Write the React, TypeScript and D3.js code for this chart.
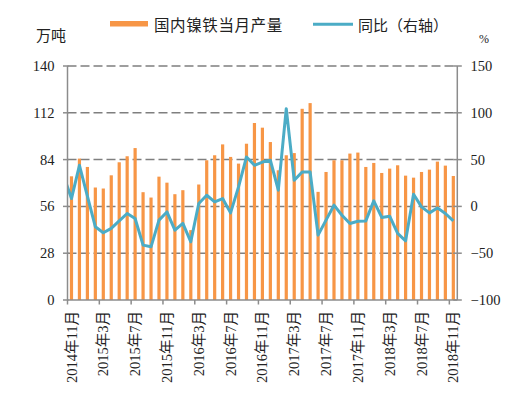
import React from "react";
import * as d3 from "d3";

const months: string[] = [
  "2014年11月","2014年12月","2015年1月","2015年2月","2015年3月","2015年4月","2015年5月","2015年6月","2015年7月","2015年8月","2015年9月","2015年10月",
  "2015年11月","2015年12月","2016年1月","2016年2月","2016年3月","2016年4月","2016年5月","2016年6月","2016年7月","2016年8月","2016年9月","2016年10月",
  "2016年11月","2016年12月","2017年1月","2017年2月","2017年3月","2017年4月","2017年5月","2017年6月","2017年7月","2017年8月","2017年9月","2017年10月",
  "2017年11月","2017年12月","2018年1月","2018年2月","2018年3月","2018年4月","2018年5月","2018年6月","2018年7月","2018年8月","2018年9月","2018年10月",
  "2018年11月",
];

// 国内镍铁当月产量 (万吨)
const production: number[] = [
  74.0, 84.6, 79.6, 67.3, 66.7, 74.6, 82.4, 86.0, 90.9, 64.5, 61.3, 73.8,
  70.2, 63.3, 65.7, 41.8, 69.1, 83.6, 86.6, 93.1, 85.6, 81.6, 93.5, 105.9,
  103.1, 94.5, 77.6, 86.6, 87.9, 114.4, 117.8, 64.7, 76.6, 83.6, 83.6, 87.6,
  88.2, 79.6, 82.0, 76.0, 78.6, 80.6, 74.4, 73.2, 76.6, 78.0, 82.8, 80.4,
  74.2,
];

// 同比 (%) — preceding month (2014年10月) first, clipped by the plot area
const yoyPrev = 33;
const yoy: number[] = [
  8.4, 43.9, 11, -21.8, -28.2, -23.5, -15.5, -7.6, -12.9, -41.4, -43.2, -14.7,
  -5.9, -25.4, -18.2, -37.8, 3.1, 11.9, 4.8, 8.4, -6.9, 20.8, 52.8, 43.9,
  47.4, 49.3, 17.3, 104.4, 27.9, 36.8, 36.8, -30.7, -14.7, 1.3, -9.4, -18.2,
  -15.8, -15.5, 5.9, -11.8, -10.5, -28.9, -36.8, 13.0, -0.5, -6.9, -1.6, -7.6,
  -15.5,
];

const leftTicks: number[] = [0, 28, 56, 84, 112, 140];
const rightTicks: number[] = [-100, -50, 0, 50, 100, 150];
const labelEvery = 4;

const W = 508, H = 396;
const L = 67.5, R = 457.3, T = 66, B = 300;

const BAR = "#F79646";
const LINE = "#4BACC6";
const AXIS = "#8c8c8c";
const GRID = "#7f7f7f";
const SERIF = "'Liberation Serif', 'Noto Sans CJK SC', serif";
const CJK = "'Noto Sans CJK SC', sans-serif";

export default function App() {
  const x = d3.scaleBand<string>().domain(months).range([L, R]).padding(0);
  const bw = x.bandwidth();
  const barW = 3.2;
  const yL = d3.scaleLinear().domain([0, 140]).range([B, T]);
  const yR = d3.scaleLinear().domain([-100, 150]).range([B, T]);
  const xi = d3.scaleLinear().domain([0, 1]).range([L + bw / 2, L + bw * 1.5]);

  const linePts: [number, number][] = [
    [xi(-1), yR(yoyPrev)],
    ...yoy.map((v, i) => [xi(i), yR(v)] as [number, number]),
  ];
  const lineGen = d3.line<[number, number]>().x((d) => d[0]).y((d) => d[1]);

  return (
    <svg width={W} height={H} style={{ position: "absolute", left: 0, top: 0, background: "#fff" }}>
      <defs>
        <clipPath id="plot">
          <rect x={L} y={T - 10} width={R - L} height={B - T + 10} />
        </clipPath>
      </defs>

      {/* gridlines */}
      {leftTicks.filter((t) => t > 0).map((t) => (
        <line key={"g" + t} x1={L} x2={R} y1={yL(t)} y2={yL(t)} stroke={GRID} strokeWidth={1.5} strokeDasharray="9,4" />
      ))}

      {/* bars */}
      {production.map((v, i) => (
        <rect key={"b" + i} x={(x(months[i]) as number) + bw / 2 - barW / 2} y={yL(v)} width={barW} height={yL(0) - yL(v)} fill={BAR} />
      ))}

      {/* line */}
      <path d={lineGen(linePts) || ""} fill="none" stroke={LINE} strokeWidth={3} strokeLinejoin="round" clipPath="url(#plot)" />

      {/* axes */}
      <line x1={L} x2={L} y1={T} y2={B} stroke={AXIS} strokeWidth={1.5} />
      <line x1={R} x2={R} y1={T} y2={B} stroke={AXIS} strokeWidth={1.5} />
      <line x1={L} x2={R} y1={B} y2={B} stroke={AXIS} strokeWidth={1.5} />

      {leftTicks.map((t) => (
        <g key={"lt" + t}>
          <line x1={L - 4.5} x2={L + 1} y1={yL(t)} y2={yL(t)} stroke={AXIS} strokeWidth={1.5} />
          <text x={54.5} y={yL(t)} dy="0.35em" textAnchor="end" fontFamily={SERIF} fontSize={14.5} fill="#222">{t}</text>
        </g>
      ))}
      {rightTicks.map((t) => (
        <g key={"rt" + t}>
          <line x1={R - 4} x2={R + 4.5} y1={yR(t)} y2={yR(t)} stroke={AXIS} strokeWidth={1.5} />
          <text x={470.5} y={yR(t)} dy="0.35em" textAnchor="start" fontFamily={SERIF} fontSize={14.5} fill="#222">{t < 0 ? "\u2212" + Math.abs(t) : t}</text>
        </g>
      ))}

      {/* x ticks and labels */}
      {months.map((m, i) =>
        i % labelEvery === 0 ? (
          <g key={"xt" + i}>
            <line x1={x(m) as number} x2={x(m) as number} y1={B} y2={B + 4.5} stroke={AXIS} strokeWidth={1.5} />
            <text
              transform={`translate(${(x(m) as number) + bw / 2},${311}) rotate(-90)`}
              textAnchor="end"
              dy="0.35em"
              fontFamily={SERIF}
              fontSize={14.5}
              fill="#222"
            >
              {m}
            </text>
          </g>
        ) : null
      )}

      {/* axis titles */}
      <text x={51} y={41} textAnchor="middle" fontFamily={CJK} fontSize={15} fill="#222">万吨</text>
      <text x={484} y={43} textAnchor="middle" fontFamily={SERIF} fontSize={12} fill="#222">%</text>

      {/* legend */}
      <rect x={110} y={21} width={38} height={5.5} fill={BAR} />
      <text x={154} y={30.5} fontFamily={CJK} fontSize={15.5} fill="#222" letterSpacing={0.6}>国内镍铁当月产量</text>
      <line x1={313} x2={353} y1={24.3} y2={24.3} stroke={LINE} strokeWidth={3} />
      <text x={358} y={30.5} fontFamily={CJK} fontSize={15} fill="#222">同比（右轴）</text>
    </svg>
  );
}
